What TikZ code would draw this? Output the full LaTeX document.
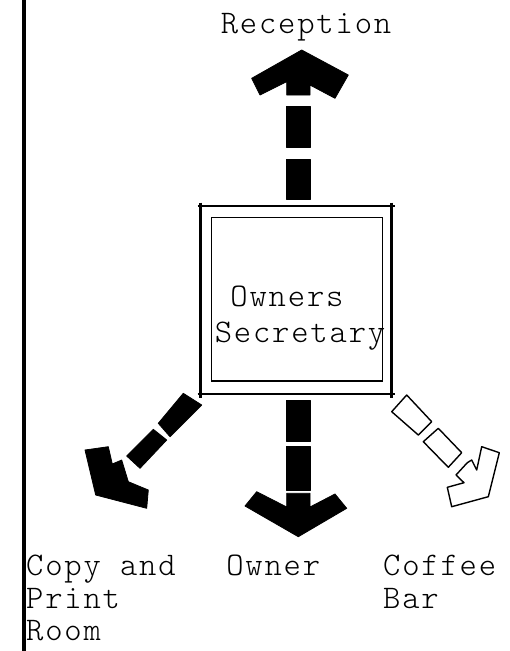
\documentclass[tikz,border=0pt]{standalone}
\usepackage{fontspec}
\newfontfamily\twfont[LetterSpace=5.5]{Latin Modern Mono Light}
\begin{document}
\begin{tikzpicture}[x=1pt,y=-1pt,
  solidpart/.style={fill=black, draw=black, line width=0.8pt, line join=round},
  hollowpart/.style={fill=white, draw=black, line width=1.4pt, line join=round},
  outerline/.style={draw=black, line width=2.4pt},
  innerline/.style={draw=black, line width=1.5pt},
  lbl/.style={font=\twfont\fontsize{33}{33}\selectfont, inner sep=0pt, text=black}]
\useasboundingbox (0,0) rectangle (510,651);
\fill[white] (0,0) rectangle (510,651);
% left border
\draw[line width=4pt] (24,0) -- (24,651);
% room box
\draw[outerline] (197.5,206) -- (394.5,206);
\draw[outerline] (197.5,394) -- (394.5,394);
\draw[outerline] (200.5,202.5) -- (200.5,397.5);
\draw[outerline] (391.5,202.5) -- (391.5,397.5);
\draw[innerline] (211.7,217.7) rectangle (382.7,381);
% up arrow (Reception)
\filldraw[solidpart] (286.7,159) rectangle (310,199);
\filldraw[solidpart] (286.7,106) rectangle (310,147);
\filldraw[solidpart] (301.7,50) -- (348.3,75) -- (335,98.3) -- (310,85) -- (310,95)
  -- (286.7,95) -- (286.7,81.7) -- (260,95) -- (251.7,78.3) -- cycle;
% down arrow (Owner)
\filldraw[solidpart] (286.7,400.7) rectangle (310,441.7);
\filldraw[solidpart] (286.7,446.7) rectangle (310,490);
\filldraw[solidpart] (286.7,493.3) -- (310,493.3) -- (310,507) -- (335,494)
  -- (346.7,508.3) -- (298.3,536.7) -- (245,506) -- (256.7,491.7) -- (286.7,507) -- cycle;
% down-left arrow (Copy and Print Room)
\filldraw[solidpart] (183.3,393.3) -- (201.7,405) -- (170,436.7) -- (158.3,423.3) -- cycle;
\filldraw[solidpart] (153.3,429.3) -- (166.7,440) -- (140,468.3) -- (126.7,456) -- cycle;
\filldraw[solidpart] (95.7,495) -- (85,450) -- (108.3,446.7) -- (112.3,464) -- (121.7,460)
  -- (128.3,481.7) -- (148.3,490) -- (146.7,508.3) -- cycle;
% down-right hollow arrow (Coffee Bar)
\draw[hollowpart] (406.7,395) -- (431.7,421.7) -- (418.3,435) -- (391.7,411.7) -- cycle;
\draw[hollowpart] (438.3,428.3) -- (461.7,452.7) -- (448.3,467.3) -- (423.3,441.7) -- cycle;
\draw[hollowpart] (481.7,446.7) -- (499.3,452.7) -- (488.3,496.7) -- (451.7,506.7)
  -- (447.3,487.3) -- (464,482.7) -- (456,475) -- (467.3,462.7) -- (471.7,460)
  -- (476.7,470) -- cycle;
% labels
\node[lbl, anchor=base] (reception) at (306,33.3) {Reception};
\node[lbl, anchor=base] (owners) at (287,306.7) {Owners};
\node[lbl, anchor=base] (secretary) at (300,342) {Secretary};
\node[lbl, anchor=base west] (copy) at (26,575) {Copy and};
\node[lbl, anchor=base west] (print) at (26,608) {Print};
\node[lbl, anchor=base west] (room) at (26,640) {Room};
\node[lbl, anchor=base] (owner) at (273.3,575) {Owner};
\node[lbl, anchor=base west] (coffee) at (383,575) {Coffee};
\node[lbl, anchor=base west] (bar) at (383,608) {Bar};
\end{tikzpicture}
\end{document}
